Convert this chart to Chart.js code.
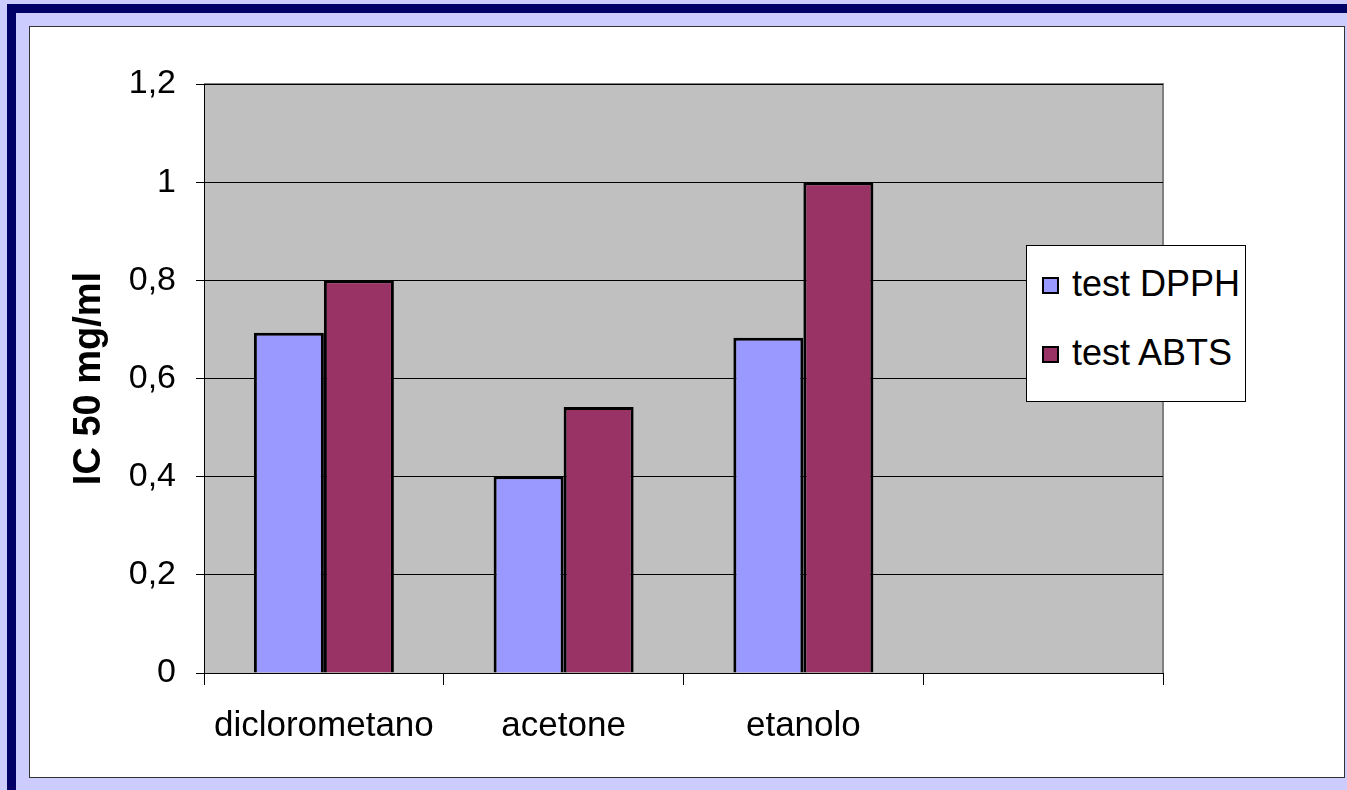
<!DOCTYPE html>
<html>
<head>
<meta charset="utf-8">
<script src="https://cdn.jsdelivr.net/npm/chart.js@4"></script>
<style>
    body { margin: 0; background: #CCCCFF; width: 1347px; height: 790px; overflow: hidden; position: relative; font-family: "Liberation Sans", Arial, sans-serif; }
    .navy { position: absolute; left: 7px; top: 4px; width: 1400px; height: 850px; border: 9px solid #000066; box-sizing: border-box; }
    .paper { position: absolute; left: 29px; top: 26px; width: 1316px; height: 752px; background: #fff; border: 1px solid #333; box-sizing: border-box; }
    #wrap { position: absolute; left: 0; top: 0; width: 1347px; height: 790px; }
    .legend { position: absolute; left: 1026px; top: 245px; width: 220px; height: 157px; background: #fff; border: 1px solid #000; box-sizing: border-box; }
    .legend-item { position: absolute; left: 15px; font-size: 36px; color: #000; line-height: 40px; white-space: nowrap; }
    .legend-item span { display: inline-block; width: 13px; height: 13px; border: 2px solid #000; margin-right: 13px; vertical-align: 2px; }
</style>
</head>
<body>
<div class="navy"></div>
<div class="paper"></div>
<div id="wrap"><canvas id="chart" width="1347" height="790"></canvas></div>
<div class="legend" id="legend"></div>
<script>
// =====================================================
// DATA
// =====================================================
const categories = ['diclorometano', 'acetone', 'etanolo', ''];
const seriesNames = ['test DPPH', 'test ABTS'];
const dpphValues = [0.693, 0.401, 0.683, null];
const abtsValues = [0.8, 0.542, 1.0, null];
const seriesColors = ['#9999FF', '#993366'];
const yTicks = [0, 0.2, 0.4, 0.6, 0.8, 1, 1.2];

const FONT = '"Liberation Sans", Arial, sans-serif';

// gray plot background + border on top/right
const plotBg = {
    id: 'plotBg',
    beforeDraw(chart) {
        const { ctx, chartArea: a } = chart;
        ctx.save();
        ctx.fillStyle = '#C0C0C0';
        ctx.fillRect(a.left, a.top, a.right - a.left, a.bottom - a.top);
        ctx.strokeStyle = '#808080';
        ctx.lineWidth = 2;
        ctx.beginPath();
        ctx.moveTo(a.left, a.top);
        ctx.lineTo(a.right, a.top);
        ctx.lineTo(a.right, a.bottom);
        ctx.stroke();
        ctx.restore();
    }
};

const ctx = document.getElementById('chart').getContext('2d');
new Chart(ctx, {
    type: 'bar',
    data: {
        labels: categories,
        datasets: [
            { label: seriesNames[0], data: dpphValues, backgroundColor: seriesColors[0], borderColor: '#000', borderWidth: 3 },
            { label: seriesNames[1], data: abtsValues, backgroundColor: seriesColors[1], borderColor: '#000', borderWidth: 3 }
        ]
    },
    options: {
        responsive: false,
        animation: false,
        categoryPercentage: 0.584,
        barPercentage: 1.0,
        layout: { padding: { left: 0, top: 84, right: 184, bottom: 0 } },
        plugins: { legend: { display: false }, tooltip: { enabled: false } },
        scales: {
            x: {
                grid: { offset: true, drawOnChartArea: false, drawTicks: true, tickLength: 12, color: '#000' },
                border: { color: '#000', width: 1 },
                ticks: { color: '#000', padding: 20, maxRotation: 0, autoSkip: false, font: { family: FONT, size: 35 } },
                afterFit(scale) { scale.height = 117; }
            },
            y: {
                min: 0,
                max: 1.2,
                afterBuildTicks(scale) { scale.ticks = yTicks.map(v => ({ value: v })); },
                grid: { color: '#000', lineWidth: 1, tickLength: 8 },
                border: { color: '#000', width: 1 },
                ticks: {
                    color: '#000', padding: 20,
                    font: { family: FONT, size: 34 },
                    callback: v => String(Math.round(v * 10) / 10).replace('.', ',')
                },
                title: {
                    display: true, text: 'IC 50 mg/ml', color: '#000',
                    font: { family: FONT, size: 38, weight: 'bold' },
                    padding: { top: 67, bottom: 0 }
                },
                afterFit(scale) { scale.width = 204; }
            }
        }
    },
    plugins: [plotBg]
});

// legend box
const legend = document.getElementById('legend');
legend.innerHTML = seriesNames.map((name, i) =>
    `<div class="legend-item" style="top:${18 + i * 69}px"><span style="background:${seriesColors[i]}"></span>${name}</div>`
).join('');
</script>
</body>
</html>
